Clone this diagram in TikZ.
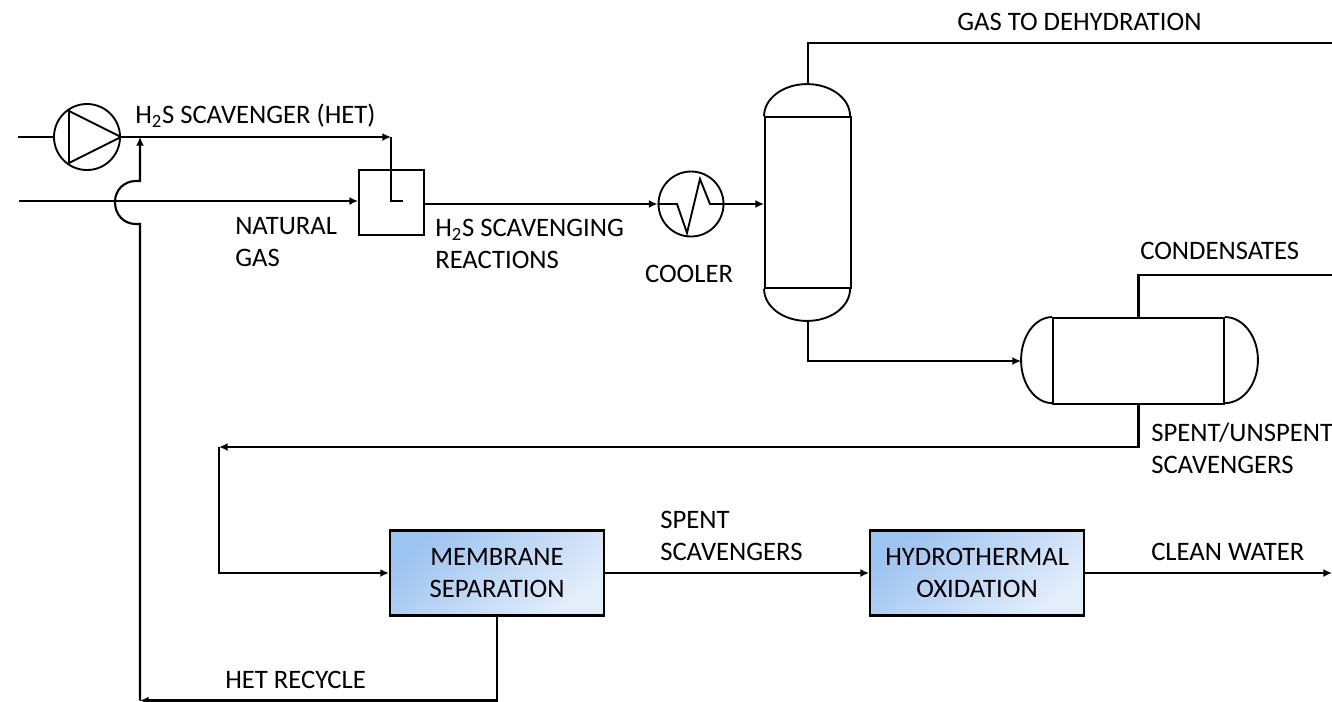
\documentclass[tikz,border=0pt]{standalone}
\usepackage{fontspec}
\setmainfont{Carlito}
\usetikzlibrary{arrows.meta,positioning}

\begin{document}
\begin{tikzpicture}[
    x=0.75pt, y=-0.75pt,
    line/.style={line width=1.6pt},
    arrow/.style={line, -{Latex[length=6.5pt, width=6pt]}},
    unit/.style={draw, line width=1.4pt, inner sep=0pt},
    fillbox/.style={unit, line width=1.6pt, minimum width=160.5pt, minimum height=63.75pt, align=center,
      top color=boxdark, bottom color=boxlight, shading angle=40},
    label/.style={inner sep=0pt, align=left, anchor=west},
    every node/.append style={font=\fontsize{20}{24}\selectfont}
  ]
    \definecolor{boxdark}{HTML}{9DC3F0}
    \definecolor{boxlight}{HTML}{E4EEFB}
    \useasboundingbox (0,0) rectangle (1332,701);

    % equipment
    \node[unit, circle, minimum size=49.5pt] (pump) at (87,137) {};
    \node[unit, minimum size=48.75pt] (mixer) at (391.5,202.5) {};
    \node[unit, circle, minimum size=48.75pt] (cooler) at (691,204) {};
    \node[unit, minimum width=64.5pt, minimum height=128.25pt] (column) at (808,202.5) {};
    \node[unit, minimum width=128.25pt, minimum height=64.5pt] (drum) at (1138.5,361) {};
    \node[fillbox] (membrane) at (497,573) {MEMBRANE\\SEPARATION};
    \node[fillbox, right=198pt of membrane] (oxidation) {HYDROTHERMAL\\OXIDATION};

    % vessel heads
    \draw[unit] (column.north west) arc[start angle=180, end angle=0, x radius=32.25pt, y radius=24pt];
    \draw[unit] (column.south west) arc[start angle=180, end angle=360, x radius=32.25pt, y radius=24pt];
    \draw[unit] (drum.north west) arc[start angle=90, end angle=270, x radius=23.25pt, y radius=32.25pt];
    \draw[unit] (drum.north east) arc[start angle=90, end angle=-90, x radius=24.75pt, y radius=32.25pt];

    % pump and cooler insides
    \draw[unit] (69,111) -- (69,163) -- (pump.east) -- cycle;
    \draw[unit] (cooler.west) -- (677,204) -- (687,233) -- (700,179) -- (710,204) -- (742,204);

    \coordinate (pumpin) at (18,137);
    \coordinate (gasin) at (19,201);
    \coordinate (tee) at (391,137);
    \coordinate (sparge) at (403,201);
    \coordinate (columntop) at (808,85);
    \coordinate (columnbottom) at (808,320);
    \coordinate (gasout) at (1332,43);
    \coordinate (drumin) at (1021,361);
    \coordinate (condout) at (1332,275);
    \coordinate (spentcorner) at (219,447);
    \coordinate (waterout) at (1332,573);
    \coordinate (recyclecorner) at (140,700.5);
    \coordinate (hetjoin) at (140,137);

    % streams
    \draw[line] (pumpin) -- (pump.west);
    \draw[arrow] (pump.east) -- (tee);
    \draw[line] (tee) -- (391,201) -- (sparge);
    \draw[arrow] (gasin) -- (gasin -| mixer.west);
    \draw[arrow] (mixer.east |- cooler.west) -- (cooler.west);
    \draw[arrow] (cooler.east) -- (column.west |- cooler.east);
    \draw[line] (columntop) -- (columntop |- gasout) -- (gasout);
    \draw[arrow] (columnbottom) -- (columnbottom |- drumin) -- (drumin);
    \draw[line] (drum.north) -- (drum.north |- condout) -- (condout);
    \draw[arrow] (drum.south) -- (drum.south |- spentcorner) -- (spentcorner);
    \draw[arrow] (spentcorner) -- (spentcorner |- membrane.west) -- (membrane.west);
    \draw[arrow] (membrane) -- (oxidation);
    \draw[arrow] (oxidation.east) -- (oxidation.east -| waterout);
    \draw[arrow] (membrane.south) -- (membrane.south |- recyclecorner) -- (recyclecorner);
    \draw[arrow] (recyclecorner) -- (140,224) -- (136,224) .. controls (124,224) and (115,215) .. (115,202)
      .. controls (115,190) and (124,181) .. (136,181) -- (140,181) -- (hetjoin);

    % labels
    \node[label] (hetlabel) at (135,116) {H\textsubscript{2}S SCAVENGER (HET)};
    \node[label] (gaslabel) at (235,242) {NATURAL\\GAS};
    \node[label] (reactlabel) at (435,244) {H\textsubscript{2}S SCAVENGING\\REACTIONS};
    \node[inner sep=0pt] (coolerlabel) at (689,274) {COOLER};
    \node[label] (dehydlabel) at (957,22) {GAS TO DEHYDRATION};
    \node[label] (condlabel) at (1140,251) {CONDENSATES};
    \node[label] (unspentlabel) at (1151,448.5) {SPENT/UNSPENT\\SCAVENGERS};
    \node[label] (spentlabel) at (660,535.5) {SPENT\\SCAVENGERS};
    \node[label] (waterlabel) at (1151,552) {CLEAN WATER};
    \node[label] (recyclelabel) at (225,680) {HET RECYCLE};
  \end{tikzpicture}
\end{document}
